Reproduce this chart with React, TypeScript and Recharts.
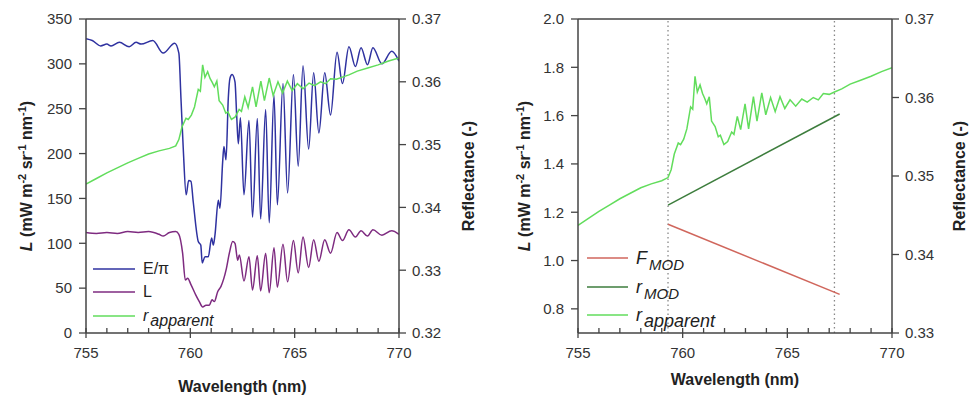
import { LineChart, Line, XAxis, YAxis, ReferenceLine } from "recharts"

const FONT = '"Liberation Sans", Arial, Helvetica, sans-serif'
const AXIS = "#444"
const INK = "#222"

// x axis: ticks every nm, labels every 5 nm
const WAVE_TICKS = [755, 756, 757, 758, 759, 760, 761, 762, 763, 764, 765, 766, 767, 768, 769, 770]
const WAVE_LABELS = [755, 760, 765, 770]

const RAD_TICKS = [0, 50, 100, 150, 200, 250, 300, 350]
const REFL_TICKS_A = [0.32, 0.33, 0.34, 0.35, 0.36, 0.37]
const FLUO_TICKS = [0.8, 1.0, 1.2, 1.4, 1.6, 1.8, 2.0]
const REFL_TICKS_B = [0.33, 0.34, 0.35, 0.36, 0.37]

// E/pi, incoming irradiance
const irrWave = [755.0, 755.3, 755.7, 756.0, 756.2, 756.6, 757.07, 757.4, 757.64, 758.2, 758.7, 759.25, 759.45, 759.55, 759.66, 759.8, 759.92, 760.03, 760.14, 760.38, 760.5, 760.57, 760.7, 760.86, 761.02, 761.1, 761.18, 761.34, 761.42, 761.55, 761.61, 761.71, 761.82, 761.9, 762.0, 762.14, 762.22, 762.3, 762.4, 762.57, 762.81, 762.98, 763.21, 763.37, 763.61, 763.78, 764.01, 764.17, 764.44, 764.66, 764.94, 765.17, 765.4, 765.67, 765.91, 766.16, 766.44, 766.72, 767.03, 767.29, 767.6, 767.91, 768.18, 768.49, 768.75, 769.18, 769.65, 770.0]
const irrValue = [328, 326, 320, 322, 320, 324, 319, 324, 322, 326, 312, 323, 312, 262, 206, 154, 170, 169, 146, 102, 98, 78, 85, 85, 106, 98, 109, 148, 139, 191, 208, 193, 262, 284, 288, 280, 243, 211, 240, 154, 237, 129, 239, 127, 249, 123, 265, 143, 278, 156, 288, 186, 298, 205, 290, 223, 290, 243, 313, 278, 319, 297, 318, 299, 318, 300, 314, 303]

// L, upwelling radiance
const radWave = [755.0, 755.5, 756.0, 756.5, 757.0, 757.5, 758.0, 758.5, 758.7, 759.0, 759.3, 759.45, 759.63, 759.76, 759.87, 760.03, 760.27, 760.43, 760.59, 760.75, 760.91, 761.04, 761.15, 761.31, 761.47, 761.71, 761.87, 762.03, 762.14, 762.27, 762.35, 762.57, 762.81, 762.98, 763.21, 763.37, 763.61, 763.78, 764.01, 764.17, 764.44, 764.66, 764.94, 765.17, 765.4, 765.67, 765.91, 766.16, 766.44, 766.72, 767.03, 767.29, 767.6, 767.91, 768.18, 768.49, 768.75, 769.18, 769.65, 770.0]
const radValue = [112, 111, 112, 111, 113, 112, 113, 110, 108, 112, 113, 110, 89, 59, 61, 54, 42, 35, 29, 31, 31, 37, 35, 46, 52, 70, 89, 102, 100, 81, 87, 58, 85, 48, 86, 47, 89, 45, 95, 51, 99, 57, 103, 67, 107, 73, 104, 80, 104, 89, 112, 103, 115, 107, 114, 108, 115, 109, 114, 110]

// apparent reflectance (both panels)
const reflWave = [755.0, 755.5, 756.0, 756.5, 757.0, 757.5, 758.0, 758.5, 759.0, 759.3, 759.45, 759.6, 759.79, 759.9, 760.05, 760.2, 760.38, 760.48, 760.59, 760.7, 760.83, 760.95, 761.05, 761.15, 761.27, 761.38, 761.55, 761.7, 761.8, 761.97, 762.15, 762.34, 762.45, 762.61, 762.77, 762.98, 763.15, 763.38, 763.55, 763.78, 763.97, 764.2, 764.42, 764.65, 764.88, 765.13, 765.4, 765.69, 765.95, 766.24, 766.48, 766.72, 767.0, 767.25, 767.6, 768.0, 768.5, 769.0, 769.5, 770.0]
const reflValue = [0.3437, 0.3446, 0.3455, 0.3463, 0.3471, 0.3478, 0.3485, 0.349, 0.3494, 0.3498, 0.3508, 0.3528, 0.3542, 0.354, 0.3547, 0.356, 0.3588, 0.3585, 0.3627, 0.3607, 0.3616, 0.3605, 0.3599, 0.3592, 0.3601, 0.357, 0.3563, 0.355, 0.3552, 0.354, 0.3544, 0.3556, 0.3553, 0.3576, 0.3559, 0.3592, 0.356, 0.3601, 0.357, 0.3606, 0.3578, 0.36, 0.3582, 0.3601, 0.3586, 0.3597, 0.3589, 0.3598, 0.3594, 0.36, 0.3597, 0.3605, 0.3604, 0.3607, 0.3611, 0.3617, 0.3622, 0.3627, 0.3633, 0.3638]

// modelled fluorescence and reflectance across the fitting window
const FIT_WINDOW = [759.3, 767.25]
const modWave = [759.3, 767.5]
const fluoModel = [1.15, 0.86]
const reflModel = [0.3463, 0.3579]

const zip = (w: number[], v: number[]) => w.map((x, i) => ({ w: x, v: v[i] }))

const irradiance = zip(irrWave, irrValue)
const radiance = zip(radWave, radValue)
const reflectance = zip(reflWave, reflValue)
const fluoLine = zip(modWave, fluoModel)
const reflLine = zip(modWave, reflModel)

const BLUE = "#2f32a0"
const PURPLE = "#7e2b80"
const LIGHT_GREEN = "#62dd5c"
const RED = "#d0665c"
const DARK_GREEN = "#3d7d3d"

function WaveTick(props: any) {
  const { x, y, payload } = props
  const labelled = WAVE_LABELS.includes(payload.value)
  return (
    <g>
      <line x1={x} x2={x} y1={y - 5} y2={labelled ? y + 5 : y} stroke={AXIS} strokeWidth={1.3} />
      {labelled && (
        <text x={x} y={y + 25} textAnchor="middle" fontSize={15} fill="#333" fontFamily={FONT}>
          {payload.value}
        </text>
      )}
    </g>
  )
}

function XTitle(props: any) {
  const { viewBox, drop } = props
  return (
    <text
      x={viewBox.x + viewBox.width / 2}
      y={viewBox.y + drop}
      textAnchor="middle"
      fontSize={16}
      fontWeight="bold"
      fill={INK}
      fontFamily={FONT}
    >
      Wavelength (nm)
    </text>
  )
}

function RadTitle(props: any) {
  const { viewBox, gap } = props
  const cx = viewBox.x + viewBox.width - gap
  const cy = viewBox.y + viewBox.height / 2
  return (
    <text
      x={cx}
      y={cy}
      transform={`rotate(-90 ${cx} ${cy})`}
      textAnchor="middle"
      fontSize={16}
      fontWeight="bold"
      fill={INK}
      fontFamily={FONT}
    >
      <tspan fontStyle="italic">L</tspan>
      <tspan> (mW m</tspan>
      <tspan dy={-6} fontSize={11}>-2</tspan>
      <tspan dy={6}> sr</tspan>
      <tspan dy={-6} fontSize={11}>-1</tspan>
      <tspan dy={6}> nm</tspan>
      <tspan dy={-6} fontSize={11}>-1</tspan>
      <tspan dy={6}>)</tspan>
    </text>
  )
}

function ReflTitle(props: any) {
  const { viewBox, gap } = props
  const cx = viewBox.x + gap
  const cy = viewBox.y + viewBox.height / 2
  return (
    <text
      x={cx}
      y={cy}
      transform={`rotate(-90 ${cx} ${cy})`}
      textAnchor="middle"
      fontSize={16}
      fontWeight="bold"
      fill={INK}
      fontFamily={FONT}
    >
      Reflectance (-)
    </text>
  )
}

function Key({ items, left, top, rowHeight, fontSize, lineWidth }: any) {
  return (
    <div style={{ position: "absolute", left, top, fontFamily: FONT, fontSize, color: INK }}>
      {items.map((it: any) => (
        <div key={it.id} style={{ display: "flex", alignItems: "center", height: rowHeight }}>
          <svg width={lineWidth} height={4} style={{ display: "block" }}>
            <line x1={0} x2={lineWidth} y1={2} y2={2} stroke={it.color} strokeWidth={1.6} />
          </svg>
          <span style={{ marginLeft: 8, whiteSpace: "nowrap", lineHeight: 1 }}>{it.label}</span>
        </div>
      ))}
    </div>
  )
}

const sub = (text: string, size: number, drop: number) => (
  <span style={{ fontStyle: "italic", fontSize: size, position: "relative", top: drop, marginLeft: 2 }}>{text}</span>
)

const leftKey = [
  { id: "e", color: BLUE, label: <span>E/π</span> },
  { id: "l", color: PURPLE, label: <span>L</span> },
  { id: "r", color: LIGHT_GREEN, label: <span><i>r</i>{sub("apparent", 16, 5)}</span> },
]

const rightKey = [
  { id: "f", color: RED, label: <span><i>F</i>{sub("MOD", 15, 6)}</span> },
  { id: "m", color: DARK_GREEN, label: <span><i>r</i>{sub("MOD", 15, 6)}</span> },
  { id: "a", color: LIGHT_GREEN, label: <span><i>r</i>{sub("apparent", 18, 6)}</span> },
]

const yTick = { fill: "#333", fontSize: 15, fontFamily: FONT }
const axisLine = { stroke: AXIS, strokeWidth: 1.5 }
const tickLine = { stroke: AXIS, strokeWidth: 1.3 }

function WaveAxis({ drop }: { drop: number }) {
  return null
}

export default function App() {
  return (
    <div style={{ position: "absolute", left: 0, top: 0, width: 969, height: 396, background: "#fff" }}>
      <div style={{ position: "absolute", left: 0, top: 0 }}>
        <LineChart width={480} height={396} margin={{ top: 19, right: 21, bottom: 33, left: 36 }}>
          <XAxis
            dataKey="w"
            type="number"
            domain={[755, 770]}
            ticks={WAVE_TICKS}
            interval={0}
            allowDataOverflow
            height={30}
            axisLine={axisLine}
            tickLine={false}
            tickSize={0}
            tickMargin={0}
            tick={<WaveTick />}
            label={<XTitle drop={59} />}
          />
          <YAxis
            yAxisId="L"
            domain={[0, 350]}
            ticks={RAD_TICKS}
            allowDataOverflow
            width={50}
            axisLine={axisLine}
            tickLine={tickLine}
            tickSize={7}
            tickMargin={7}
            tick={yTick}
            label={<RadTitle gap={54} />}
          />
          <YAxis
            yAxisId="R"
            orientation="right"
            domain={[0.32, 0.37]}
            ticks={REFL_TICKS_A}
            allowDataOverflow
            width={60}
            axisLine={axisLine}
            tickLine={tickLine}
            tickSize={7}
            tickMargin={6}
            tick={yTick}
            tickFormatter={(v: number) => v.toFixed(2)}
            label={<ReflTitle gap={75} />}
          />
          <ReferenceLine yAxisId="L" y={350} stroke={AXIS} strokeWidth={1.5} />
          <Line yAxisId="L" data={irradiance} dataKey="v" type="monotone" stroke={BLUE} strokeWidth={1.5} dot={false} isAnimationActive={false} />
          <Line yAxisId="L" data={radiance} dataKey="v" type="monotone" stroke={PURPLE} strokeWidth={1.5} dot={false} isAnimationActive={false} />
          <Line yAxisId="R" data={reflectance} dataKey="v" type="linear" stroke={LIGHT_GREEN} strokeWidth={1.5} dot={false} isAnimationActive={false} />
        </LineChart>
        <Key items={leftKey} left={93} top={257} rowHeight={23.5} fontSize={16} lineWidth={42} />
      </div>

      <div style={{ position: "absolute", left: 480, top: 0, width: 489, height: 396 }}>
        <LineChart width={489} height={396} margin={{ top: 19, right: 17, bottom: 33, left: 48 }}>
          <XAxis
            dataKey="w"
            type="number"
            domain={[755, 770]}
            ticks={WAVE_TICKS}
            interval={0}
            allowDataOverflow
            height={30}
            axisLine={axisLine}
            tickLine={false}
            tickSize={0}
            tickMargin={0}
            tick={<WaveTick />}
            label={<XTitle drop={52} />}
          />
          <YAxis
            yAxisId="L"
            domain={[0.7, 2.0]}
            ticks={FLUO_TICKS}
            allowDataOverflow
            width={50}
            axisLine={axisLine}
            tickLine={tickLine}
            tickSize={7}
            tickMargin={7}
            tick={yTick}
            tickFormatter={(v: number) => v.toFixed(1)}
            label={<RadTitle gap={48} />}
          />
          <YAxis
            yAxisId="R"
            orientation="right"
            domain={[0.33, 0.37]}
            ticks={REFL_TICKS_B}
            allowDataOverflow
            width={60}
            axisLine={axisLine}
            tickLine={tickLine}
            tickSize={7}
            tickMargin={6}
            tick={yTick}
            tickFormatter={(v: number) => v.toFixed(2)}
            label={<ReflTitle gap={73} />}
          />
          <ReferenceLine yAxisId="L" y={2.0} stroke={AXIS} strokeWidth={1.5} />
          {FIT_WINDOW.map((w) => (
            <ReferenceLine key={w} yAxisId="L" x={w} stroke="#888" strokeWidth={1.3} strokeDasharray="1.5 3" />
          ))}
          <Line yAxisId="L" data={fluoLine} dataKey="v" type="linear" stroke={RED} strokeWidth={1.5} dot={false} isAnimationActive={false} />
          <Line yAxisId="R" data={reflLine} dataKey="v" type="linear" stroke={DARK_GREEN} strokeWidth={1.5} dot={false} isAnimationActive={false} />
          <Line yAxisId="R" data={reflectance} dataKey="v" type="linear" stroke={LIGHT_GREEN} strokeWidth={1.5} dot={false} isAnimationActive={false} />
        </LineChart>
        <Key items={rightKey} left={107} top={244} rowHeight={28.5} fontSize={18} lineWidth={41} />
      </div>
    </div>
  )
}
